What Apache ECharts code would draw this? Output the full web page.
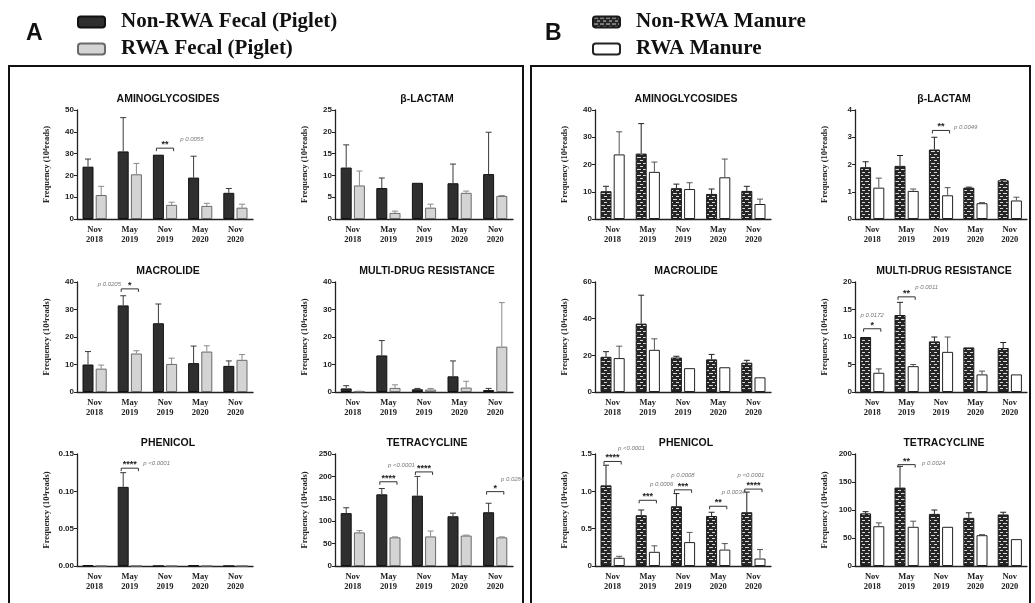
<!DOCTYPE html>
<html><head><meta charset="utf-8">
<script src="https://cdn.jsdelivr.net/npm/echarts@6/dist/echarts.min.js"></script>
<style>html,body{margin:0;padding:0;background:#fff}#c{width:1035px;height:603px}</style>
</head><body><div id="c"></div>
<script>
const categories = ['Nov\n2018','May\n2019','Nov\n2019','May\n2020','Nov\n2020'];
const seriesNames = ['Non-RWA Fecal (Piglet)','RWA Fecal (Piglet)','Non-RWA Manure','RWA Manure'];
const panelTitles = ['AMINOGLYCOSIDES','β-LACTAM','MACROLIDE','MULTI-DRUG RESISTANCE','PHENICOL','TETRACYCLINE'];
const yAxisName = 'Frequency (10⁴reads)';

// Panel A (bar value, upper end of error bar)
const aAminoNon = [24, 31, 29.5, 19, 12];
const aAminoNonErr = [27.5, 46.5, 29.5, 28.8, 14];
const aAminoRwa = [11, 20.5, 6.5, 6, 5.2];
const aAminoRwaErr = [15, 25.5, 7.7, 7.2, 6.8];
const aLactamNon = [11.8, 7.1, 8.3, 8.2, 10.3];
const aLactamNonErr = [17, 9.4, 8.3, 12.6, 19.9];
const aLactamRwa = [7.7, 1.4, 2.6, 6, 5.3];
const aLactamRwaErr = [11, 1.8, 3.4, 6.4, 5.4];
const aMacroNon = [10, 31.5, 25, 10.5, 9.5];
const aMacroNonErr = [14.7, 35, 32, 16.7, 11.3];
const aMacroRwa = [8.5, 14, 10.2, 14.7, 11.7];
const aMacroRwaErr = [9.8, 15, 12.3, 16.8, 13.6];
const aMdrNon = [1.3, 13.3, 1, 5.7, 0.7];
const aMdrNonErr = [2.3, 18.7, 1.3, 11.3, 1.3];
const aMdrRwa = [0.2, 1.5, 0.9, 1.6, 16.5];
const aMdrRwaErr = [0.3, 2.6, 1.3, 3.9, 32.5];
const aPheniNon = [0.001, 0.106, 0, 0.001, 0];
const aPheniNonErr = [0.001, 0.125, 0, 0.001, 0];
const aPheniRwa = [0, 0, 0, 0, 0];
const aPheniRwaErr = [0, 0, 0, 0, 0];
const aTetraNon = [118, 160, 157, 111, 120];
const aTetraNonErr = [130, 173, 200, 118, 140];
const aTetraRwa = [75, 64, 66, 68, 64];
const aTetraRwaErr = [79, 65, 78, 69, 65];

// Panel B
const bAminoNon = [10.2, 24, 11.3, 9.2, 10.3];
const bAminoNonErr = [12, 35, 12.8, 11, 12];
const bAminoRwa = [23.7, 17.3, 11, 15.3, 5.5];
const bAminoRwaErr = [32, 20.9, 13.3, 22, 7.3];
const bLactamNon = [1.9, 1.95, 2.55, 1.15, 1.42];
const bLactamNonErr = [2.1, 2.33, 3.0, 1.17, 1.45];
const bLactamRwa = [1.15, 1.03, 0.87, 0.58, 0.68];
const bLactamRwaErr = [1.5, 1.1, 1.15, 0.6, 0.8];
const bMacroNon = [19.2, 37.3, 18.8, 17.8, 16];
const bMacroNonErr = [22, 52.8, 19.5, 20.5, 17.3];
const bMacroRwa = [18.5, 23, 13, 13.5, 8];
const bMacroRwaErr = [25, 29, 13, 13.5, 8];
const bMdrNon = [10, 14, 9.2, 8.1, 8];
const bMdrNonErr = [10, 16.3, 10, 8.1, 9];
const bMdrRwa = [3.5, 4.7, 7.3, 3.2, 3.2];
const bMdrRwaErr = [4.2, 5, 10, 3.8, 3.2];
const bPheniNon = [1.08, 0.68, 0.8, 0.67, 0.72];
const bPheniNonErr = [1.35, 0.75, 0.97, 0.72, 0.99];
const bPheniRwa = [0.11, 0.19, 0.32, 0.22, 0.1];
const bPheniRwaErr = [0.13, 0.27, 0.45, 0.3, 0.22];
const bTetraNon = [94, 140, 93, 86, 92];
const bTetraNonErr = [97, 178, 100, 95, 96];
const bTetraRwa = [71, 70, 70, 55, 48];
const bTetraRwaErr = [77, 80, 70, 56, 48];

// Axis ranges [min, max, interval, decimals]
const aAminoAxis = [0, 50, 10, 0];
const aLactamAxis = [0, 25, 5, 0];
const aMacroAxis = [0, 40, 10, 0];
const aMdrAxis = [0, 40, 10, 0];
const aPheniAxis = [0, 0.15, 0.05, 2];
const aTetraAxis = [0, 250, 50, 0];
const bAminoAxis = [0, 40, 10, 0];
const bLactamAxis = [0, 4, 1, 0];
const bMacroAxis = [0, 60, 20, 0];
const bMdrAxis = [0, 20, 5, 0];
const bPheniAxis = [0, 1.5, 0.5, 1];
const bTetraAxis = [0, 200, 50, 0];

// Significance annotations: [category, bracket value, stars, p text, p category pos, p value, align]
const aAminoAnn = [[2, 32.5, '**', 'p 0.0055', 2.43, 36.5, 'left']];
const aLactamAnn = [];
const aMacroAnn = [[1, 37.5, '*', 'p 0.0205', 0.75, 39, 'right']];
const aMdrAnn = [];
const aPheniAnn = [[1, 0.131, '****', 'p <0.0001', 1.38, 0.138, 'left']];
const aTetraAnn = [[1, 188, '****', 'p <0.0001', 0.99, 224, 'left'], [2, 210, '****', '', 0, 0, 'left'], [4, 166, '*', 'p 0.0284', 4.16, 194, 'left']];
const bAminoAnn = [];
const bLactamAnn = [[2, 3.25, '**', 'p 0.0049', 2.38, 3.35, 'left']];
const bMacroAnn = [];
const bMdrAnn = [[0, 11.5, '*', 'p 0.0172', 0, 14, 'center'], [1, 17.3, '**', 'p 0.0011', 1.25, 19, 'left']];
const bPheniAnn = [[0, 1.4, '****', 'p <0.0001', 0.15, 1.57, 'left'], [1, 0.88, '***', 'p 0.0006', 1.06, 1.1, 'left'], [2, 1.02, '***', 'p 0.0008', 2, 1.22, 'center'], [3, 0.8, '**', 'p 0.0034', 3.1, 0.99, 'left'], [4, 1.03, '****', 'p <0.0001', 3.55, 1.22, 'left']];
const bTetraAnn = [[1, 181, '**', 'p 0.0024', 1.45, 183, 'left']];

const panels = [
  ['A',0,0,0,aAminoNon,aAminoNonErr,aAminoRwa,aAminoRwaErr,aAminoAxis,aAminoAnn],
  ['A',1,0,1,aLactamNon,aLactamNonErr,aLactamRwa,aLactamRwaErr,aLactamAxis,aLactamAnn],
  ['A',0,1,2,aMacroNon,aMacroNonErr,aMacroRwa,aMacroRwaErr,aMacroAxis,aMacroAnn],
  ['A',1,1,3,aMdrNon,aMdrNonErr,aMdrRwa,aMdrRwaErr,aMdrAxis,aMdrAnn],
  ['A',0,2,4,aPheniNon,aPheniNonErr,aPheniRwa,aPheniRwaErr,aPheniAxis,aPheniAnn],
  ['A',1,2,5,aTetraNon,aTetraNonErr,aTetraRwa,aTetraRwaErr,aTetraAxis,aTetraAnn],
  ['B',0,0,0,bAminoNon,bAminoNonErr,bAminoRwa,bAminoRwaErr,bAminoAxis,bAminoAnn],
  ['B',1,0,1,bLactamNon,bLactamNonErr,bLactamRwa,bLactamRwaErr,bLactamAxis,bLactamAnn],
  ['B',0,1,2,bMacroNon,bMacroNonErr,bMacroRwa,bMacroRwaErr,bMacroAxis,bMacroAnn],
  ['B',1,1,3,bMdrNon,bMdrNonErr,bMdrRwa,bMdrRwaErr,bMdrAxis,bMdrAnn],
  ['B',0,2,4,bPheniNon,bPheniNonErr,bPheniRwa,bPheniRwaErr,bPheniAxis,bPheniAnn],
  ['B',1,2,5,bTetraNon,bTetraNonErr,bTetraRwa,bTetraRwaErr,bTetraAxis,bTetraAnn]
];

// layout
const colLeft = {A:[77,335], B:[595,855]};
const colWidth = {A:[176,178], B:[176,172]};
const rowTop = [110,282,454];
const rowHeight = [109,110,112];
const BAR_W = 11, GAP = 2.2, OFF = (BAR_W + GAP) / 2;

// brick pattern
const pat = document.createElement('canvas');
pat.width = 6; pat.height = 6;
(function(){
  const g = pat.getContext('2d');
  g.fillStyle = '#262626'; g.fillRect(0,0,6,6);
  g.fillStyle = '#d9d9d9';
  g.fillRect(1,1,4,1);
  g.fillRect(4,4,2,1); g.fillRect(0,4,1,1);
})();

const styles = {
  A: [{color:'#2f2f2f', borderColor:'#111', borderWidth:1}, {color:'#d4d4d4', borderColor:'#6a6a6a', borderWidth:1}],
  B: [{color:{image:pat, repeat:'repeat'}, borderColor:'#1a1a1a', borderWidth:1}, {color:'#ffffff', borderColor:'#222', borderWidth:1}]
};
const errColors = {A:['#3a3a3a','#8a8a8a'], B:['#222','#555']};

function errRender(offset, color){
  return function(params, api){
    const i = api.value(0), v = api.value(1), e = api.value(2);
    if (!(e > v)) return null;
    const p0 = api.coord([i, v]), p1 = api.coord([i, e]);
    const x = p0[0] + offset;
    return {type:'group', children:[
      {type:'line', shape:{x1:x, y1:p0[1], x2:x, y2:p1[1]}, style:{stroke:color, lineWidth:1}},
      {type:'line', shape:{x1:x-3, y1:p1[1], x2:x+3, y2:p1[1]}, style:{stroke:color, lineWidth:1}}
    ]};
  };
}
function annRender(anns){
  return function(params, api){
    const a = anns[params.dataIndex];
    const c = api.coord([a[0], a[1]]);
    const band = api.size([1, 0])[0];
    const x1 = c[0] - OFF - 2, x2 = c[0] + OFF + 2, y = c[1];
    const ch = [
      {type:'polyline', shape:{points:[[x1,y+3],[x1,y],[x2,y],[x2,y+3]]}, style:{stroke:'#333', lineWidth:1, fill:null}},
      {type:'text', style:{text:a[2], x:c[0], y:y+1, align:'center', verticalAlign:'bottom', font:'bold 9px "Liberation Sans"', fill:'#222'}}
    ];
    if (a[3]) {
      const pp = api.coord([a[0], a[5]]);
      ch.push({type:'text', style:{text:a[3], x:c[0] + (a[4]-a[0])*band, y:pp[1], align:a[6], verticalAlign:'middle', font:'italic 6px "Liberation Sans"', fill:'#777'}});
    }
    return {type:'group', children:ch};
  };
}

const grid = [], xAxis = [], yAxis = [], series = [], title = [];
panels.forEach((p, k) => {
  const [panel, col, row, ti, non, nonErr, rwa, rwaErr, ax, anns] = p;
  const left = colLeft[panel][col], width = colWidth[panel][col];
  grid.push({left:left, top:rowTop[row], width:width, height:rowHeight[row], containLabel:false});
  title.push({text:panelTitles[ti], left:left + width/2 - 2, top:rowTop[row] - 21, textAlign:'center',
    textStyle:{fontFamily:'"Liberation Sans", Arial, sans-serif', fontWeight:'bold', fontSize:10.5, color:'#111'}});
  xAxis.push({type:'category', gridIndex:k, data:categories,
    axisLine:{lineStyle:{color:'#222', width:1.3}}, axisTick:{show:false},
    axisLabel:{interval:0, margin:6, fontFamily:'"Liberation Serif", serif', fontWeight:'bold', fontSize:8.5, lineHeight:10, color:'#222'}});
  const dec = ax[3];
  yAxis.push({type:'value', gridIndex:k, min:ax[0], max:ax[1], interval:ax[2],
    name:yAxisName, nameLocation:'middle', nameGap:26,
    nameTextStyle:{fontFamily:'"Liberation Serif", serif', fontWeight:'bold', fontSize:8.5, color:'#222'},
    axisLine:{show:true, lineStyle:{color:'#222', width:1.3}},
    axisTick:{show:true, length:3, lineStyle:{color:'#222'}},
    splitLine:{show:false},
    axisLabel:{margin:3, fontFamily:'"Liberation Sans", Arial, sans-serif', fontWeight:'bold', fontSize:8, color:'#222',
      formatter: v => (dec === 1 && v === 0) ? '0' : v.toFixed(dec)}});
  const names = panel === 'A' ? [seriesNames[0], seriesNames[1]] : [seriesNames[2], seriesNames[3]];
  const vals = [non, rwa], errs = [nonErr, rwaErr];
  [0,1].forEach(s => {
    series.push({type:'bar', name:names[s], xAxisIndex:k, yAxisIndex:k, data:vals[s], barWidth:BAR_W, barGap:'20%',
      itemStyle:styles[panel][s], silent:true});
  });
  [0,1].forEach(s => {
    series.push({type:'custom', xAxisIndex:k, yAxisIndex:k, z:3, silent:true,
      data:vals[s].map((v,i)=>[i, v, errs[s][i]]),
      renderItem:errRender(s === 0 ? -OFF : OFF, errColors[panel][s])});
  });
  if (anns.length) {
    series.push({type:'custom', xAxisIndex:k, yAxisIndex:k, z:4, silent:true,
      data:anns.map(a=>[a[0], a[1]]), renderItem:annRender(anns)});
  }
});

const legendText = {fontFamily:'"Liberation Serif", "Times New Roman", serif', fontWeight:'bold', fontSize:21, color:'#111', lineHeight:22, padding:[0,0,0,11]};
const option = {
  animation:false,
  title:title, grid:grid, xAxis:xAxis, yAxis:yAxis, series:series,
  legend:[
    {orient:'vertical', left:77, top:11, padding:0, itemWidth:27, itemHeight:11, itemGap:5, selectedMode:false,
     data:[seriesNames[0], seriesNames[1]], textStyle:legendText},
    {orient:'vertical', left:592, top:11, padding:0, itemWidth:27, itemHeight:11, itemGap:5, selectedMode:false,
     data:[seriesNames[2], seriesNames[3]], textStyle:legendText}
  ],
  graphic:[
    {type:'text', left:26, top:22, style:{text:'A', font:'bold 23px "Liberation Sans", Arial', fill:'#111'}},
    {type:'text', left:545, top:22, style:{text:'B', font:'bold 23px "Liberation Sans", Arial', fill:'#111'}},
    {type:'rect', shape:{x:9, y:66, width:514, height:545}, style:{fill:'none', stroke:'#111', lineWidth:2}},
    {type:'rect', shape:{x:531, y:66, width:499, height:545}, style:{fill:'none', stroke:'#111', lineWidth:2}}
  ]
};
const chart = echarts.init(document.getElementById('c'), null, {renderer:'canvas'});
chart.setOption(option);
</script></body></html>
